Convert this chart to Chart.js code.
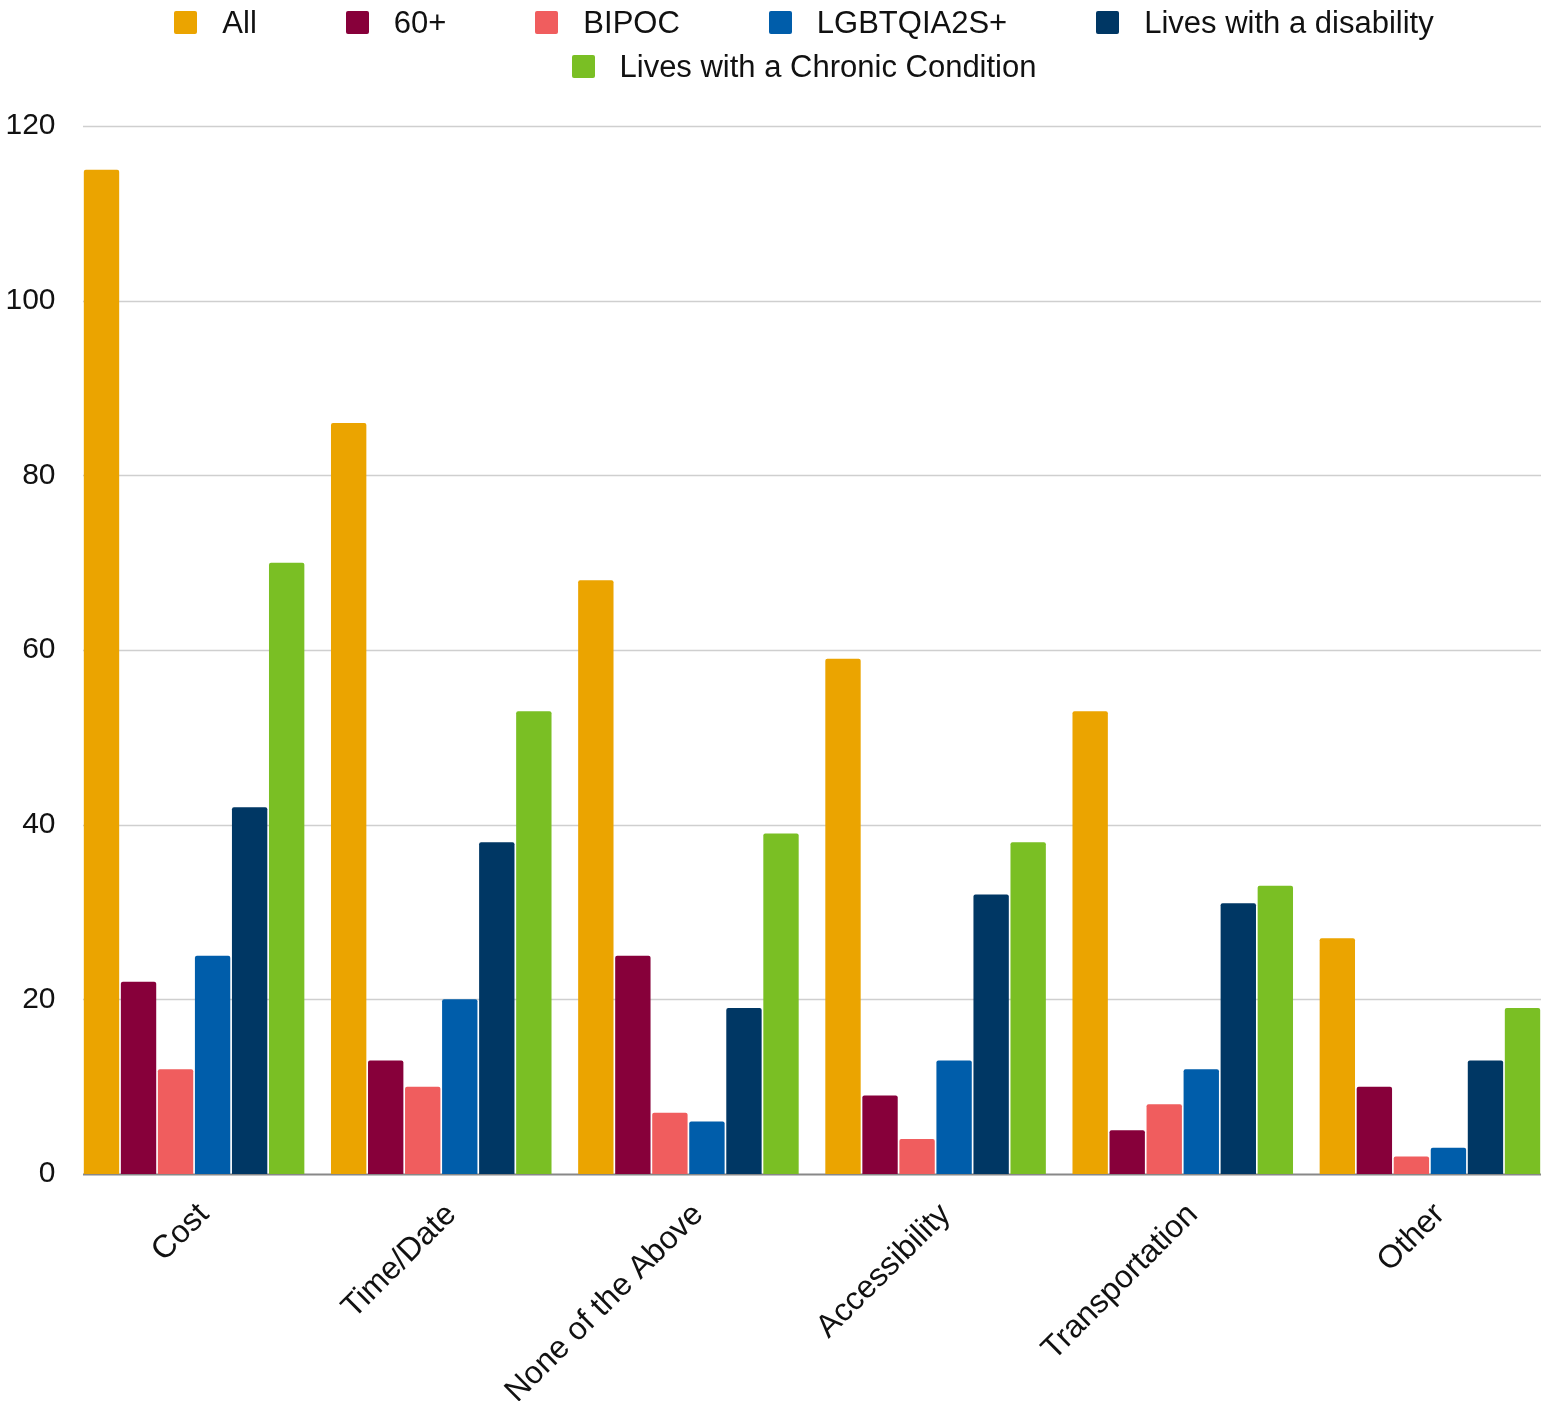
<!DOCTYPE html>
<html>
<head>
<meta charset="utf-8">
<script src="https://cdn.jsdelivr.net/npm/chart.js@4/dist/chart.umd.min.js"></script>
<style>
  html, body { margin: 0; padding: 0; background: #fff; }
  #wrap { position: relative; width: 1554px; height: 1401px; overflow: hidden; }
  #legend {
    position: absolute; top: 3px; left: 54px; width: 1500px;
    display: flex; flex-wrap: wrap; justify-content: center;
    column-gap: 89px; row-gap: 5px;
    font-family: "Liberation Sans", Arial, sans-serif; font-size: 31px; color: #111;
  }
  .item { display: flex; align-items: center; height: 39px; white-space: nowrap; }
  .box { width: 23px; height: 23px; border-radius: 2px; margin-right: 25px; }
</style>
</head>
<body>
<div id="wrap">
  <canvas id="chart" width="1554" height="1401"></canvas>
  <div id="legend"></div>
</div>
<script>
var categories = ['Cost', 'Time/Date', 'None of the Above', 'Accessibility', 'Transportation', 'Other'];
var seriesNames = ['All', '60+', 'BIPOC', 'LGBTQIA2S+', 'Lives with a disability', 'Lives with a Chronic Condition'];
var seriesColors = ['#eba400', '#87003a', '#f05d5e', '#005daa', '#003764', '#7abf24'];

var allValues = [115, 86, 68, 59, 53, 27];
var over60Values = [22, 13, 25, 9, 5, 10];
var bipocValues = [12, 10, 7, 4, 8, 2];
var lgbtqValues = [25, 20, 6, 13, 12, 3];
var disabilityValues = [42, 38, 19, 32, 31, 13];
var chronicValues = [70, 53, 39, 38, 33, 19];

var yTicks = [0, 20, 40, 60, 80, 100, 120];

var seriesValues = [allValues, over60Values, bipocValues, lgbtqValues, disabilityValues, chronicValues];
var CAT_PCT = 0.899;

// horizontal grid lines that stop at the outer bar edges, like the original
var gridPlugin = {
  id: 'gridLines',
  beforeDatasetsDraw: function(chart) {
    var ctx = chart.ctx;
    var x = chart.scales.x, y = chart.scales.y;
    var catW = x.getPixelForValue(1) - x.getPixelForValue(0);
    var x0 = x.getPixelForValue(0) - catW * CAT_PCT / 2;
    var x1 = x.getPixelForValue(categories.length - 1) + catW * CAT_PCT / 2;
    ctx.save();
    for (var i = 0; i < yTicks.length; i++) {
      var py = Math.round(y.getPixelForValue(yTicks[i])) + 0.5;
      ctx.beginPath();
      ctx.lineWidth = yTicks[i] === 0 ? 2 : 1.5;
      ctx.strokeStyle = yTicks[i] === 0 ? '#888' : '#cfcfcf';
      ctx.moveTo(x0, py);
      ctx.lineTo(x1, py);
      ctx.stroke();
    }
    ctx.restore();
  }
};

var datasets = [];
for (var i = 0; i < seriesNames.length; i++) {
  datasets.push({
    label: seriesNames[i],
    data: seriesValues[i],
    backgroundColor: seriesColors[i],
    borderRadius: { topLeft: 2, topRight: 2 },
    borderSkipped: 'start',
    categoryPercentage: CAT_PCT,
    barPercentage: 0.955
  });
}

var legendEl = document.getElementById('legend');
for (var i = 0; i < seriesNames.length; i++) {
  var item = document.createElement('div');
  item.className = 'item';
  item.innerHTML = '<span class="box" style="background:' + seriesColors[i] + '"></span><span>' + seriesNames[i] + '</span>';
  legendEl.appendChild(item);
}

var family = '"Liberation Sans", Arial, sans-serif';

new Chart(document.getElementById('chart'), {
  type: 'bar',
  data: { labels: categories, datasets: datasets },
  plugins: [gridPlugin],
  options: {
    responsive: false,
    animation: false,
    layout: { padding: { top: 126, right: 0.5, left: 0, bottom: 0 } },
    plugins: { legend: { display: false }, tooltip: { enabled: false } },
    scales: {
      x: {
        grid: { display: false },
        border: { display: false },
        ticks: { color: '#111', font: { family: family, size: 32 }, minRotation: 45, maxRotation: 45, padding: 14, labelOffset: 10 },
        afterFit: function(scale) { scale.height = 227; }
      },
      y: {
        min: 0, max: 120,
        grid: { display: false, drawTicks: false },
        border: { display: false },
        ticks: { stepSize: 20, color: '#111', font: { family: family, size: 30 }, padding: 15 },
        afterFit: function(scale) { scale.width = 70.5; }
      }
    }
  }
});
</script>
</body>
</html>
